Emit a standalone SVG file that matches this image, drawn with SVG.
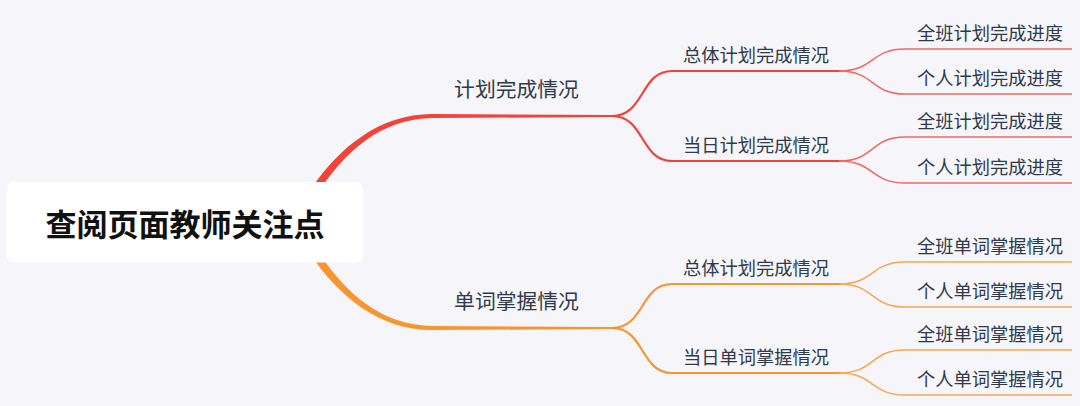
<svg xmlns="http://www.w3.org/2000/svg" width="1080" height="406" viewBox="0 0 1080 406">
  <style>
    .bg { fill: #f5f5fa; }
    .root-box { fill: #ffffff; }
    .root-text { font-family: "Noto Sans CJK SC", "Noto Sans", sans-serif; font-size: 31px; font-weight: bold; fill: #111111; text-anchor: middle; dominant-baseline: central; }
    .l1 { font-family: "Noto Sans CJK SC", "Noto Sans", sans-serif; font-size: 20.8px; fill: #2f3a4a; text-anchor: middle; dominant-baseline: central; }
    .l2 { font-family: "Noto Sans CJK SC", "Noto Sans", sans-serif; font-size: 18.3px; fill: #2f3a4a; text-anchor: middle; dominant-baseline: central; }
    .red-main { fill: #f0433a; }
    .orange-main { fill: #f7952e; }
    .red-mid { fill: none; stroke: #f0433a; stroke-width: 2.2; stroke-linecap: round; }
    .orange-mid { fill: none; stroke: #f7952e; stroke-width: 2.2; stroke-linecap: round; }
    .red-leaf { fill: none; stroke: #f26760; stroke-width: 1.5; }
    .orange-leaf { fill: none; stroke: #f9a650; stroke-width: 1.5; }
  </style>
  <rect class="bg" x="0" y="0" width="1080" height="406"/>

  <g id="connectors">
    <!-- root to level 1 -->
    <path class="red-main" d="M 311.7,187.8 C 339.5,147.5 380,113.5 433,114 L 613,114.9 L 613,117.1 L 433,118 C 380,118.5 344.5,152.5 318.3,192.2 Z"/>
    <path class="orange-main" d="M 311.7,256.2 C 339.5,296.5 380,330.5 433,330 L 613,329.1 L 613,326.9 L 433,326 C 380,325.5 344.5,291.5 318.3,251.8 Z"/>
    <!-- level 1 to level 2 -->
    <path class="red-mid" d="M 612,116 C 645,116 640,71 672,71 L 840,71"/>
    <path class="red-mid" d="M 612,116 C 645,116 640,161 672,161 L 840,161"/>
    <path class="orange-mid" d="M 612,328 C 645,328 640,284 672,284 L 840,284"/>
    <path class="orange-mid" d="M 612,328 C 645,328 640,373 672,373 L 840,373"/>
    <!-- level 2 to leaves -->
    <path class="red-leaf" d="M 839,71 C 875,71 870,49 905,49 L 1072,49"/>
    <path class="red-leaf" d="M 839,71 C 875,71 870,94 905,94 L 1072,94"/>
    <path class="red-leaf" d="M 839,161 C 875,161 870,137 905,137 L 1072,137"/>
    <path class="red-leaf" d="M 839,161 C 875,161 870,183 905,183 L 1072,183"/>
    <path class="orange-leaf" d="M 839,284 C 875,284 870,262 905,262 L 1072,262"/>
    <path class="orange-leaf" d="M 839,284 C 875,284 870,307 905,307 L 1072,307"/>
    <path class="orange-leaf" d="M 839,373 C 875,373 870,350 905,350 L 1072,350"/>
    <path class="orange-leaf" d="M 839,373 C 875,373 870,395 905,395 L 1072,395"/>
  </g>

  <g id="root">
    <rect class="root-box" x="6.5" y="182" width="356.5" height="80.5" rx="7"/>
    <text class="root-text" x="185" y="222">查阅页面教师关注点</text>
  </g>

  <g id="plan">
    <text class="l1" x="516.5" y="88">计划完成情况</text>
  </g>
  <g id="plan-overall">
    <text class="l2" x="756" y="54">总体计划完成情况</text>
  </g>
  <g id="plan-overall-class">
    <text class="l2" x="990" y="32">全班计划完成进度</text>
  </g>
  <g id="plan-overall-personal">
    <text class="l2" x="990" y="77">个人计划完成进度</text>
  </g>
  <g id="plan-daily">
    <text class="l2" x="756" y="144">当日计划完成情况</text>
  </g>
  <g id="plan-daily-class">
    <text class="l2" x="990" y="120">全班计划完成进度</text>
  </g>
  <g id="plan-daily-personal">
    <text class="l2" x="990" y="166">个人计划完成进度</text>
  </g>

  <g id="words">
    <text class="l1" x="516.5" y="300">单词掌握情况</text>
  </g>
  <g id="words-overall">
    <text class="l2" x="756" y="267">总体计划完成情况</text>
  </g>
  <g id="words-overall-class">
    <text class="l2" x="990" y="245">全班单词掌握情况</text>
  </g>
  <g id="words-overall-personal">
    <text class="l2" x="990" y="290">个人单词掌握情况</text>
  </g>
  <g id="words-daily">
    <text class="l2" x="756" y="356">当日单词掌握情况</text>
  </g>
  <g id="words-daily-class">
    <text class="l2" x="990" y="333">全班单词掌握情况</text>
  </g>
  <g id="words-daily-personal">
    <text class="l2" x="990" y="378">个人单词掌握情况</text>
  </g>
</svg>
